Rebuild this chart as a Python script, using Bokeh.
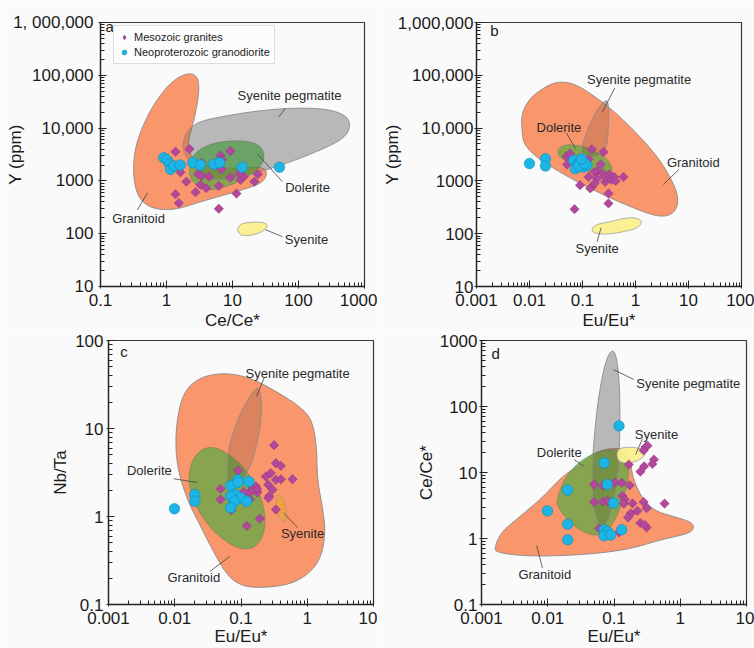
import math
from bokeh.plotting import figure
from bokeh.models import Range1d, FixedTicker, Legend, LegendItem
from bokeh.layouts import column, row
from bokeh.embed import file_html
from bokeh.resources import INLINE
from bokeh.core.properties import value

# ======================= DATA =======================
# ---- panel a : Ce/Ce* vs Y (ppm)
a_meso_x = [1.37, 2.23, 9.3, 6.6, 6.9, 6.8, 1.63, 3.0, 4.4, 3.4, 2.0, 3.27, 4.0, 6.2, 2.75,
            9.3, 13.2, 14.8, 12.8, 24.2, 21.5, 11.5, 1.37, 1.54, 6.2, 3.4]
a_meso_y = [3570, 4020, 3680, 3000, 2530, 1660, 1460, 1340, 1200, 1250, 970, 840, 728, 805, 611,
            1155, 1045, 1200, 1380, 1340, 970, 575, 561, 380, 297, 2200]
a_neo_x = [0.91, 1.02, 1.11, 1.15, 1.29, 1.62, 2.5, 3.27, 5.2, 6.4, 14.0, 51.5]
a_neo_y = [2750, 2500, 2100, 1660, 1920, 2000, 2210, 2000, 2070, 2210, 1820, 1820]

a_granitoid_x = [2.05, 2.74, 3.11, 3.04, 2.74, 2.36, 2.10, 2.30, 4.11, 10.4, 23.5, 31.4, 33.3, 27.9,
                 16.6, 7.35, 3.26, 1.62, 0.908, 0.571, 0.403, 0.331, 0.312, 0.339, 0.428, 0.605, 0.908, 1.36]
a_granitoid_y = [109000, 103000, 73800, 38400, 18600, 9040, 5060, 2840, 1840, 1710, 1840, 1710, 1280, 917,
                 716, 537, 402, 301, 280, 314, 432, 771, 1840, 4380, 10400, 24900, 51400, 85300]
a_pegmatite_x = [1.78, 2.17, 3.26, 8.26, 26.4, 84.3, 269, 541, 621, 481, 213, 75, 26.4, 10.4, 5.19, 3.26, 2.17, 1.78]
a_pegmatite_y = [5850, 9710, 13600, 17300, 21500, 24200, 23200, 17300, 10400, 6290, 3790, 2280, 1480, 1110,
                 1030, 1280, 2450, 3790]
a_dolerite_x = [2.22, 2.44, 3.26, 5.19, 9.27, 16.6, 24.9, 30.3, 29.6, 23.5, 15.6, 9.27, 5.19, 3.26, 2.50, 2.22]
a_dolerite_y = [1710, 2840, 4070, 5210, 5770, 5690, 4850, 3530, 2280, 1590, 1110, 828, 667, 716, 958, 1280]
a_syenite_x = [12.0, 14.8, 26.4, 34.4, 31.4, 20.9, 13.9, 12.0]
a_syenite_y = [136, 161, 168, 152, 117, 94.4, 90.4, 109]

# ---- panel b : Eu/Eu* vs Y (ppm)
b_meso_x = [0.050, 0.058, 0.051, 0.150, 0.25, 0.13, 0.22, 0.187, 0.168, 0.243, 0.323, 0.396, 0.594, 0.13,
            0.09, 0.15, 0.187, 0.268, 0.17, 0.35, 0.42, 0.30, 0.309, 0.309, 0.0707, 0.14, 0.27]
b_meso_y = [2920, 3290, 2040, 3960, 3520, 2570, 2050, 1520, 1470, 1380, 1320, 1190, 1190, 1190,
            830, 770, 1110, 957, 900, 1050, 1000, 1250, 578, 375, 292, 720, 1200]
b_neo_x = [0.01, 0.02, 0.02, 0.068, 0.078, 0.09, 0.104, 0.121, 0.073, 0.085, 0.11, 0.095]
b_neo_y = [2130, 2630, 1920, 2450, 1980, 2280, 1840, 1980, 1710, 1900, 2150, 2600]

b_granitoid_x = [0.00728, 0.00697, 0.0104, 0.0215, 0.0357, 0.0685, 0.164, 0.451, 1.24, 2.96, 5.69, 6.57,
                 4.92, 2.56, 0.805, 0.253, 0.0792, 0.0288, 0.0121, 0.00782]
b_granitoid_y = [7820, 18600, 38400, 63800, 76000, 70600, 41300, 18600, 6760, 2450, 771, 373,
                 225, 209, 323, 537, 958, 1710, 3050, 5060]
b_pegmatite_x = [0.0944, 0.122, 0.176, 0.253, 0.301, 0.314, 0.305, 0.284, 0.219, 0.142, 0.103]
b_pegmatite_y = [4070, 9040, 20000, 32300, 33300, 18600, 7820, 4380, 3050, 2840, 3280]
b_dolerite_x = [0.0333, 0.0413, 0.0685, 0.142, 0.292, 0.379, 0.337, 0.219, 0.106, 0.0514, 0.0357]
b_dolerite_y = [3790, 4710, 4920, 4070, 2640, 1710, 1340, 1280, 1590, 2280, 2920]
b_syenite_x = [0.146, 0.189, 0.337, 0.697, 1.16, 1.34, 1.07, 0.603, 0.292, 0.164]
b_syenite_y = [126, 152, 168, 203, 195, 161, 126, 109, 97, 101]

# ---- panel c : Eu/Eu* vs Nb/Ta
c_meso_x = [0.316, 0.336, 0.40, 0.237, 0.282, 0.336, 0.40, 0.60, 0.257, 0.299, 0.266, 0.09, 0.049, 0.14,
            0.167, 0.177, 0.132, 0.049, 0.0714, 0.336, 0.192, 0.122, 0.137, 0.15, 0.11, 0.26, 0.175]
c_meso_y = [6.47, 4.03, 3.76, 2.85, 3.11, 2.61, 2.65, 2.65, 2.30, 2.02, 1.70, 3.33, 2.06, 2.30,
            2.20, 1.88, 1.85, 1.56, 1.18, 1.20, 0.944, 0.78, 1.56, 2.0, 1.9, 1.62, 2.05]
c_neo_x = [0.0099, 0.0201, 0.0201, 0.0698, 0.0901, 0.0901, 0.132, 0.0831, 0.0698, 0.0989, 0.122, 0.0803, 0.0698]
c_neo_y = [1.224, 1.77, 1.49, 2.24, 2.61, 2.44, 2.50, 1.77, 1.70, 1.63, 1.49, 1.49, 1.26]

c_granitoid_x = [0.0122, 0.0172, 0.0308, 0.0693, 0.156, 0.396, 0.794, 1.19, 1.39, 1.42, 1.69, 1.90, 1.60,
                 1.0, 0.5, 0.176, 0.0982, 0.0618, 0.0388, 0.0244, 0.0153, 0.0108, 0.0102]
c_granitoid_y = [20.8, 32.0, 40.7, 42.5, 36.4, 24.7, 17.5, 12.4, 6.2, 2.61, 1.31, 0.656, 0.329,
                 0.214, 0.165, 0.154, 0.165, 0.214, 0.391, 0.78, 1.56, 3.69, 8.75]
c_pegmatite_x = [0.176, 0.202, 0.204, 0.176, 0.139, 0.0982, 0.0693, 0.0604, 0.0655, 0.0875, 0.124]
c_pegmatite_y = [30.6, 24.7, 13.5, 6.76, 3.69, 2.40, 2.20, 2.85, 6.2, 12.4, 20.8]
c_dolerite_x = [0.0163, 0.0193, 0.029, 0.049, 0.0982, 0.176, 0.235, 0.222, 0.156, 0.0875, 0.0388, 0.0217, 0.0168]
c_dolerite_y = [3.11, 4.78, 6.2, 5.94, 4.03, 2.20, 1.10, 0.603, 0.427, 0.427, 0.656, 1.20, 2.02]
c_syenite_x = [0.37, 0.41, 0.46, 0.50, 0.47, 0.40, 0.345, 0.34]
c_syenite_y = [1.78, 1.70, 1.35, 1.0, 0.88, 0.92, 1.20, 1.52]

# ---- panel d : Eu/Eu* vs Ce/Ce*
d_meso_x = [0.30, 0.32, 0.28, 0.40, 0.38, 0.285, 0.25, 0.167, 0.050, 0.068, 0.103, 0.131, 0.173, 0.134,
            0.145, 0.050, 0.068, 0.08, 0.141, 0.19, 0.28, 0.225, 0.179, 0.163, 0.311, 0.25, 0.311, 0.29,
            0.58, 0.0596, 0.119]
d_meso_y = [24.3, 25.5, 21.6, 15.7, 13.5, 12.4, 10.3, 13.2, 6.6, 6.3, 7.0, 7.0, 6.4, 4.4,
            3.9, 3.57, 3.6, 3.7, 3.38, 3.4, 3.57, 2.62, 2.39, 2.08, 2.88, 1.71, 1.47, 1.6,
            3.38, 1.42, 1.24]
d_neo_x = [0.119, 0.071, 0.020, 0.0795, 0.098, 0.0099, 0.020, 0.020, 0.071, 0.0795, 0.071, 0.0892, 0.131]
d_neo_y = [50.9, 14.0, 5.42, 6.60, 3.45, 2.62, 1.65, 0.96, 1.36, 1.27, 1.10, 1.13, 1.36]

d_granitoid_x = [0.00155, 0.00195, 0.00392, 0.00881, 0.0157, 0.028, 0.0499, 0.0891, 0.142, 0.178, 0.189,
                 0.252, 0.401, 0.902, 1.52, 1.61, 1.28, 0.506, 0.178, 0.0499, 0.0111, 0.00349, 0.00174]
d_granitoid_y = [0.695, 1.24, 2.20, 4.41, 8.32, 12.4, 19.8, 23.5, 22.7, 15.7, 8.81,
                 4.41, 2.62, 2.08, 1.75, 1.39, 1.17, 0.959, 0.695, 0.585, 0.54, 0.552, 0.619]
d_pegmatite_x = [0.0944, 0.11, 0.122, 0.123, 0.119, 0.106, 0.0841, 0.0667, 0.053, 0.0471, 0.0471, 0.0512, 0.0594, 0.0748]
d_pegmatite_y = [750, 561, 199, 49.8, 14.0, 4.94, 1.96, 1.47, 1.96, 4.94, 14.0, 44.3, 158, 500]
d_dolerite_x = [0.0137, 0.0176, 0.028, 0.0499, 0.0891, 0.142, 0.172, 0.159, 0.119, 0.0792, 0.0499, 0.028, 0.0176, 0.014]
d_dolerite_y = [3.93, 7.85, 14.0, 19.8, 22.7, 20.9, 14.0, 6.23, 2.47, 1.24, 1.08, 1.39, 2.20, 3.12]
d_syenite_x = [0.11, 0.178, 0.29, 0.30, 0.235, 0.15, 0.112]
d_syenite_y = [23.0, 24.5, 22.5, 18.5, 15.0, 13.6, 15.0]

# ---- ticks
a_x_ticks = [0.1, 1, 10, 100, 1000]
a_x_labels = ["0.1", "1", "10", "100", "1000"]
y_ppm_ticks = [10, 100, 1000, 10000, 100000, 1000000]
a_y_labels = ["10", "100", "1000", "10,000", "100,000", "1, 000,000"]
b_y_labels = ["10", "100", "1000", "10,000", "100,000", "1,000,000"]
b_x_ticks = [0.001, 0.01, 0.1, 1, 10, 100]
b_x_labels = ["0.001", "0.01", "0.1", "1", "10", "100"]
cd_x_ticks = [0.001, 0.01, 0.1, 1, 10]
cd_x_labels = ["0.001", "0.01", "0.1", "1", "10"]
c_y_ticks = [0.1, 1, 10, 100]
c_y_labels = ["0.1", "1", "10", "100"]
d_y_ticks = [0.1, 1, 10, 100, 1000]
d_y_labels = ["0.1", "1", "10", "100", "1000"]

# ======================= STYLE =======================
FONT = "Liberation Sans"
BG = "#fafafa"
ORANGE = "#F9966C"
GREEN = "#49AD40"
YELLOW = "#FBF08E"
SYEN_C = "#F4A03A"
MESO = "#B2489C"
NEO = "#1CB5E6"
NAN = float("nan")


def minors(lo, hi):
    e0 = int(math.floor(math.log10(lo) + 1e-9))
    e1 = int(math.ceil(math.log10(hi) - 1e-9))
    return [m * 10.0 ** e for e in range(e0, e1) for m in range(2, 10)]


def smooth(xs, ys, n=3):
    lx = [math.log10(v) for v in xs]
    ly = [math.log10(v) for v in ys]
    for _ in range(n):
        nx, ny = [], []
        m = len(lx)
        for i in range(m):
            x0, y0, x1, y1 = lx[i], ly[i], lx[(i + 1) % m], ly[(i + 1) % m]
            nx += [0.75 * x0 + 0.25 * x1, 0.25 * x0 + 0.75 * x1]
            ny += [0.75 * y0 + 0.25 * y1, 0.25 * y0 + 0.75 * y1]
        lx, ly = nx, ny
    return [10 ** v for v in lx], [10 ** v for v in ly]


def panel(w, h, xr, yr, xt, xl, yt, yl, xlabel, ylabel, borders, ystd, ylstd, xstd, xlstd):
    bl, br, bt, bb = borders
    p = figure(width=w, height=h, x_axis_type="log", y_axis_type="log",
               x_range=Range1d(*xr), y_range=Range1d(*yr),
               output_backend="svg", toolbar_location=None,
               min_border_left=bl, min_border_right=br, min_border_top=bt, min_border_bottom=bb)
    p.background_fill_color = BG
    p.border_fill_color = BG
    p.xgrid.visible = False
    p.ygrid.visible = False
    p.outline_line_color = "#3a3a3a"
    p.outline_line_width = 1.2
    p.xaxis.ticker = FixedTicker(ticks=xt, minor_ticks=minors(*xr))
    p.yaxis.ticker = FixedTicker(ticks=yt, minor_ticks=minors(*yr))
    p.xaxis.major_label_overrides = dict(zip(xt, xl))
    p.yaxis.major_label_overrides = dict(zip(yt, yl))
    p.xaxis.axis_label = xlabel
    p.yaxis.axis_label = ylabel
    for ax in (p.xaxis[0], p.yaxis[0]):
        ax.axis_line_color = "#222222"
        ax.axis_line_width = 1.3
        ax.major_tick_line_color = "#222222"
        ax.minor_tick_line_color = "#222222"
        ax.major_tick_in = 6
        ax.major_tick_out = 2
        ax.minor_tick_in = 4
        ax.minor_tick_out = 0
        ax.major_label_text_font = FONT
        ax.major_label_text_font_size = "17px"
        ax.major_label_text_color = "#1a1a1a"
        ax.axis_label_text_font = FONT
        ax.axis_label_text_font_size = "17px"
        ax.axis_label_text_font_style = "normal"
        ax.axis_label_text_color = "#1a1a1a"
    p.yaxis.major_label_standoff = ystd
    p.yaxis.axis_label_standoff = ylstd
    p.xaxis.major_label_standoff = xstd
    p.xaxis.axis_label_standoff = xlstd
    return p


def fields(p, gran, peg, dol, sye, sye_color):
    px, py = smooth(*peg)
    p.patch(px, py, fill_color="#d2d2d2", line_color=None)
    gx, gy = smooth(*gran)
    p.patch(gx, gy, fill_color=ORANGE, line_color="#8a8a8a", line_width=0.9)
    dx, dy = smooth(*dol)
    p.patch(dx, dy, fill_color=GREEN, fill_alpha=0.65, line_color="#666666", line_alpha=0.5, line_width=0.8)
    p.patch(px, py, fill_color="black", fill_alpha=0.12, line_color="#8a8a8a", line_width=0.9)
    sx, sy = smooth(*sye)
    p.patch(sx, sy, fill_color=sye_color, fill_alpha=0.95, line_color="#999999", line_width=0.8)


def annotate(p, labels, letter):
    p.text(x=[l[1] for l in labels], y=[l[2] for l in labels], text=[l[0] for l in labels],
           text_font=value(FONT), text_font_size=value("13px"), text_color="#2a2a2a",
           text_align="center", text_baseline="middle")
    p.segment(x0=[l[3] for l in labels], y0=[l[4] for l in labels],
              x1=[l[5] for l in labels], y1=[l[6] for l in labels],
              line_color="#444444", line_width=0.8)
    p.text(x=[letter[1]], y=[letter[2]], text=[letter[0]], text_font=value(FONT),
           text_font_size=value("15px"), text_color="#1a1a1a", text_align="left", text_baseline="middle")


def points(p, mx, my, nx, ny):
    rm = p.scatter(mx, my, marker="square", angle=math.pi / 4, size=6.6,
                   fill_color=MESO, line_color="#8A3578", line_width=0.5)
    rn = p.scatter(nx, ny, marker="circle", size=10.5,
                   fill_color=NEO, line_color="#0E8DB8", line_width=0.6)
    return rm, rn


# ----- panel a
pa = panel(377, 332, (0.1, 1000), (10, 1000000), a_x_ticks, a_x_labels, y_ppm_ticks, a_y_labels,
           "Ce/Ce*", "Y (ppm)", (100, 13, 22, 45), 5, -15, 5, 2)
fields(pa, (a_granitoid_x, a_granitoid_y), (a_pegmatite_x, a_pegmatite_y),
       (a_dolerite_x, a_dolerite_y), (a_syenite_x, a_syenite_y), YELLOW)
annotate(pa, [("Syenite pegmatite", 73.1, 40700, 63.5, 23800, 49.8, 16100),
              ("Dolerite", 137, 738, 57.3, 958, 23.9, 3230),
              ("Granitoid", 0.377, 192, 0.364, 284, 0.515, 594),
              ("Syenite", 132, 77.1, 57.3, 87.8, 31.6, 119)],
         ("a", 0.119, 840000))
points(pa, a_meso_x, a_meso_y, a_neo_x, a_neo_y)
# legend-only glyphs (not drawn in the plot: NaN positions)
lg_m = pa.scatter([NAN], [NAN], marker="diamond", size=11, fill_color=MESO, line_color="#8A3578", line_width=0.5)
lg_n = pa.scatter([NAN], [NAN], marker="circle", size=11, fill_color=NEO, line_color="#0E8DB8", line_width=0.6)
leg = Legend(items=[LegendItem(label="Mesozoic granites", renderers=[lg_m]),
                    LegendItem(label="Neoproterozoic granodiorite", renderers=[lg_n])],
             location=(13, 222))
leg.label_text_font = FONT
leg.label_text_font_size = "11px"
leg.label_text_color = "#222222"
leg.glyph_width = 12
leg.glyph_height = 14
leg.label_height = 14
leg.label_standoff = 4
leg.padding = 4
leg.spacing = 1
leg.margin = 0
leg.border_line_color = "#bbbbbb"
leg.background_fill_color = "#fcfcfc"
pa.add_layout(leg)

# ----- panel b
pb = panel(377, 332, (0.001, 100), (10, 1000000), b_x_ticks, b_x_labels, y_ppm_ticks, b_y_labels,
           "Eu/Eu*", "Y (ppm)", (99, 13, 22, 45), 1, -7, 5, 2)
fields(pb, (b_granitoid_x, b_granitoid_y), (b_pegmatite_x, b_pegmatite_y),
       (b_dolerite_x, b_dolerite_y), (b_syenite_x, b_syenite_y), YELLOW)
annotate(pb, [("Syenite pegmatite", 1.17, 81900, 0.408, 57800, 0.236, 20000),
              ("Dolerite", 0.0359, 10200, 0.0499, 8050, 0.0738, 4080),
              ("Granitoid", 12.3, 2280, 6.59, 1640, 3.33, 855),
              ("Syenite", 0.189, 53.1, 0.189, 70.6, 0.225, 130)],
         ("b", 0.00181, 697000))
points(pb, b_meso_x, b_meso_y, b_neo_x, b_neo_y)

# ----- panel c
pc = panel(377, 316, (0.001, 10), (0.1, 100), cd_x_ticks, cd_x_labels, c_y_ticks, c_y_labels,
           "Eu/Eu*", "Nb/Ta", (108, 4, 7, 42), 3, 2, 5, 0)
fields(pc, (c_granitoid_x, c_granitoid_y), (c_pegmatite_x, c_pegmatite_y),
       (c_dolerite_x, c_dolerite_y), (c_syenite_x, c_syenite_y), SYEN_C)
annotate(pc, [("Syenite pegmatite", 0.716, 42.6, 0.223, 37.4, 0.171, 23.0),
              ("Dolerite", 0.00414, 3.33, 0.00966, 2.68, 0.0218, 2.44),
              ("Syenite", 0.851, 0.646, 0.716, 0.748, 0.438, 1.10),
              ("Granitoid", 0.0194, 0.201, 0.0339, 0.237, 0.0681, 0.353)],
         ("c", 0.0015, 75.8))
points(pc, c_meso_x, c_meso_y, c_neo_x, c_neo_y)

# ----- panel d
pd_ = panel(377, 316, (0.001, 10), (0.1, 1000), cd_x_ticks, cd_x_labels, d_y_ticks, d_y_labels,
            "Eu/Eu*", "Ce/Ce*", (104, 8, 8, 42), 2, 1, 5, 0)
fields(pd_, (d_granitoid_x, d_granitoid_y), (d_pegmatite_x, d_pegmatite_y),
       (d_dolerite_x, d_dolerite_y), (d_syenite_x, d_syenite_y), YELLOW)
annotate(pd_, [("Syenite pegmatite", 1.32, 223, 0.201, 256, 0.098, 362),
               ("Syenite", 0.437, 38.2, 0.268, 32.1, 0.212, 18.7),
               ("Dolerite", 0.0149, 20.2, 0.025, 15.7, 0.0354, 12.4),
               ("Granitoid", 0.00902, 0.282, 0.00832, 0.356, 0.00682, 0.78)],
         ("d", 0.00142, 644))
points(pd_, d_meso_x, d_meso_y, d_neo_x, d_neo_y)

layout = column(row(pa, pb), row(pc, pd_))
open("out.html", "w").write(file_html(layout, INLINE))
